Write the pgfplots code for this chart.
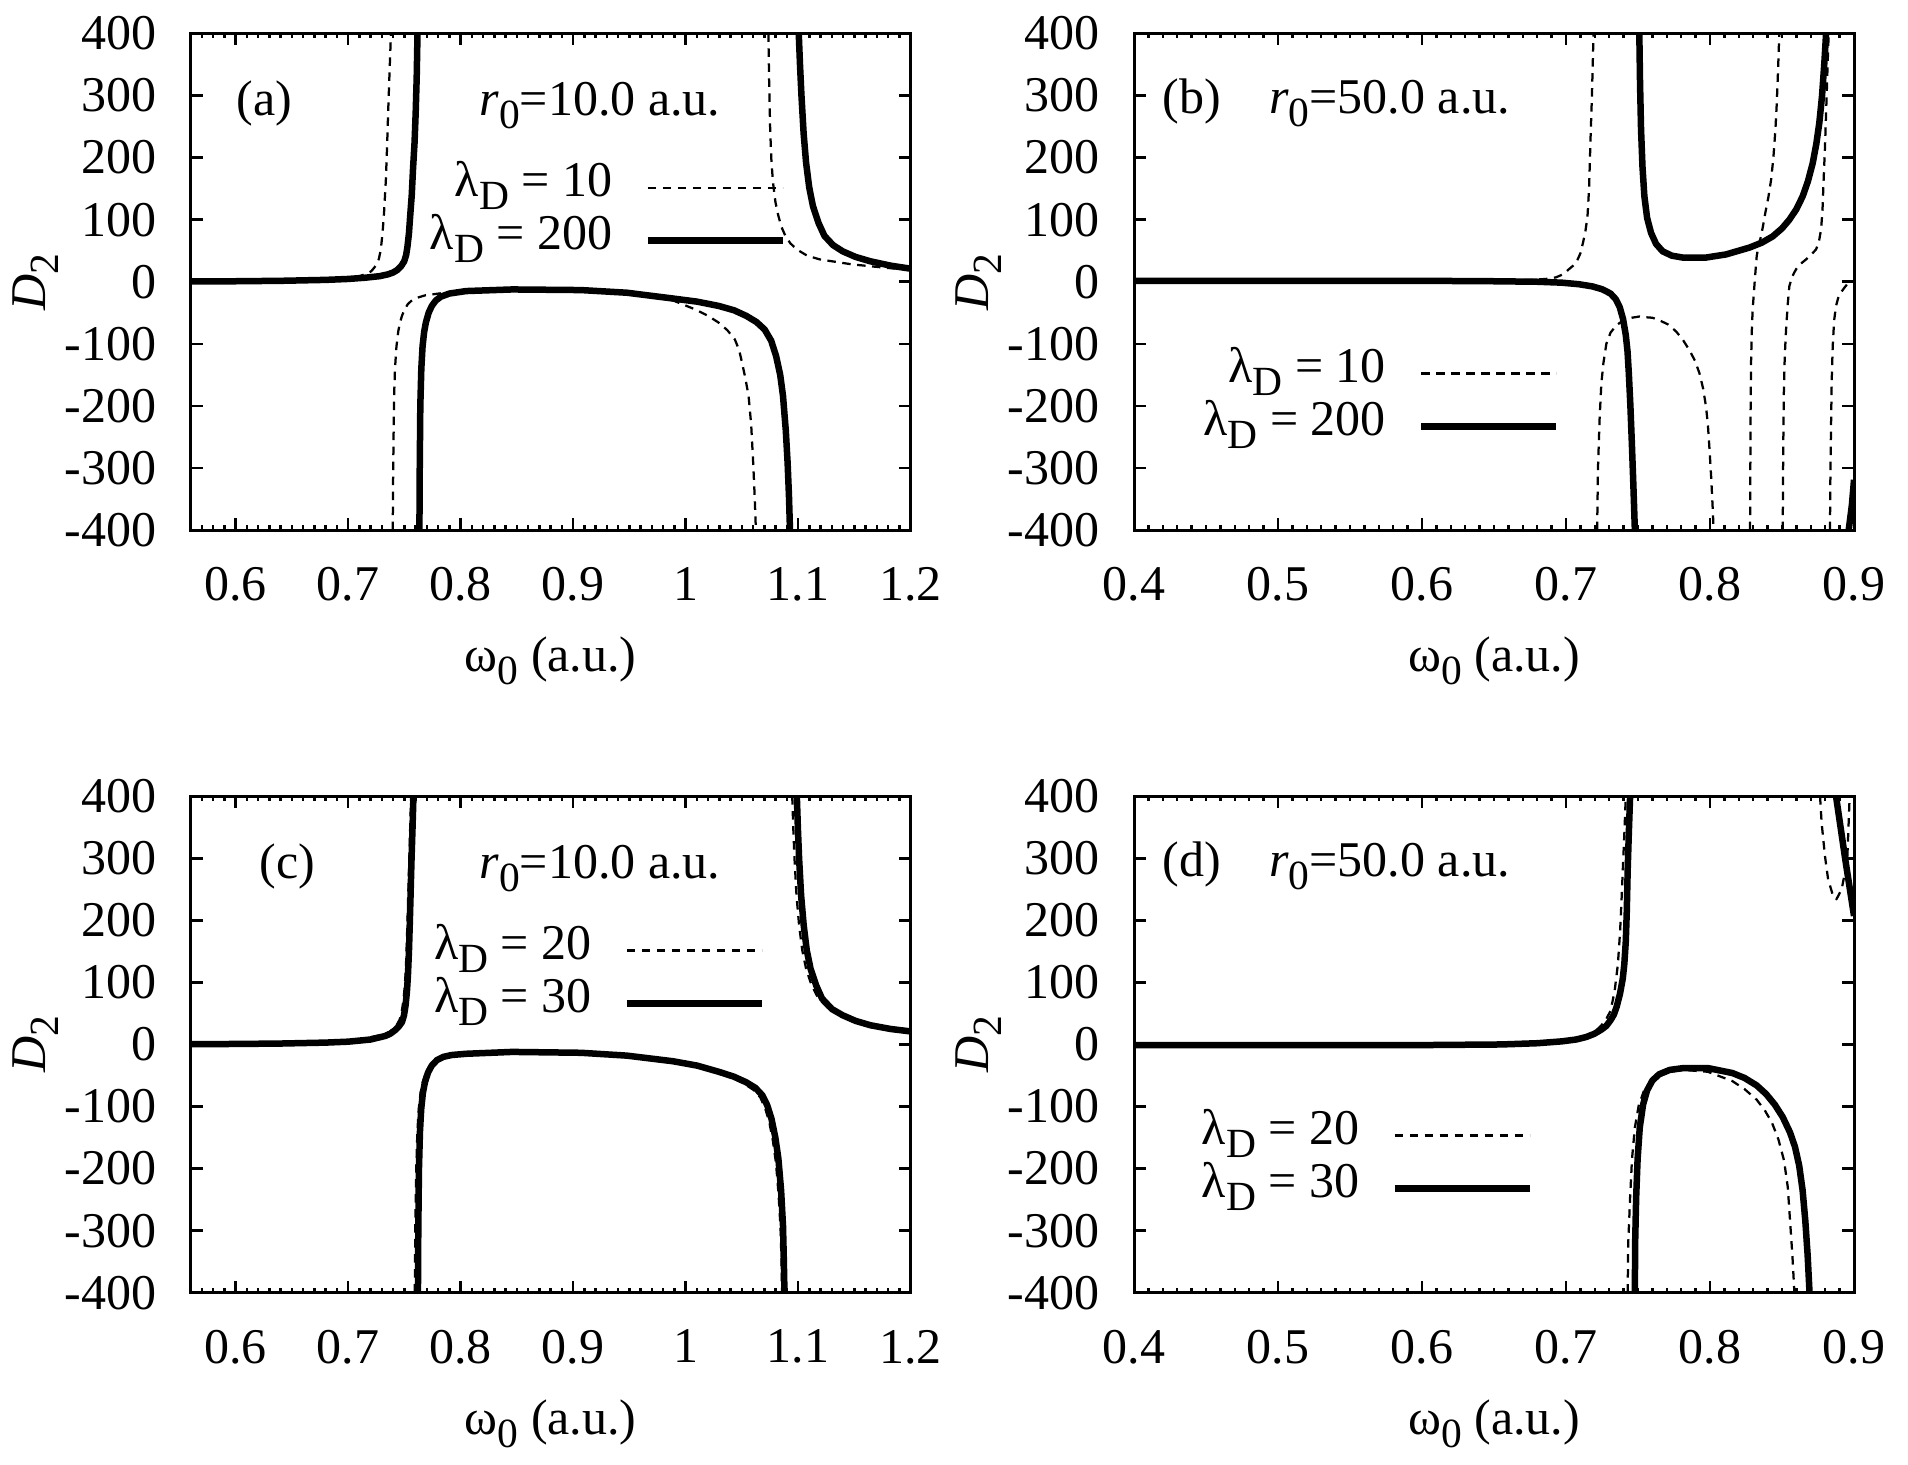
\documentclass[border=0pt]{standalone}
\usepackage{fontspec}
\setmainfont{Liberation Serif}
\usepackage{pgfplots}
\pgfplotsset{compat=1.18}
\usetikzlibrary{calc}
\newcommand\sub[1]{\raisebox{-2.6pt}{\fontsize{8.3}{8}\selectfont #1}}
\pgfplotsset{
 panel/.style={
  scale only axis, width=144pt, height=99.3pt,
  ymin=-400, ymax=400, ytick={-400,-300,-200,-100,0,100,200,300,400},
  yticklabels={-400,-300,-200,-100,0,100,200,300,400},
  tick align=inside, major tick length=2.4pt, minor tick length=1pt,
  every tick/.style={line width=0.5pt, black},
  axis line style={line width=0.6pt},
  xticklabel style={yshift=-3.9pt},
  yticklabel style={xshift=-3.4pt},
  xlabel={ω\sub{0} (a.u.)},
  ylabel={\textit{D}\sub{2}},
  every axis x label/.style={at={(rel axis cs:0.5,0)}, anchor=base, yshift=-28.3pt},
  every axis y label/.style={at={($(rel axis cs:0,0.5)+(-31pt,0pt)$)}, anchor=center, rotate=90},
  legend plot pos=right, legend cell align=right,
  legend image code/.code={\draw[##1] (0pt,0pt) -- (27pt,0pt);},
  legend style={draw=none, fill=none, inner sep=0pt, outer sep=0pt,
    column sep=6.4pt, row sep=0pt,
    nodes={inner sep=0pt, text height=7pt, text depth=3.6pt}},
 },
 pa/.style={panel, xmin=0.56, xmax=1.2, xtick={0.6,0.7,0.8,0.9,1.0,1.1,1.2},
  xticklabels={0.6,0.7,0.8,0.9,1,1.1,1.2}, minor xtick={0.56,0.57,...,1.205}},
 pb/.style={panel, xmin=0.4, xmax=0.9, xtick={0.4,0.5,0.6,0.7,0.8,0.9},
  xticklabels={0.4,0.5,0.6,0.7,0.8,0.9}, minor xtick={0.4,0.41,...,0.905}},
 dsh/.style={black, line width=0.45pt, dash pattern=on 1.7pt off 1.3pt, line join=round},
 sld/.style={black, line width=1.3pt, line join=round},
}
\begin{document}
\begin{tikzpicture}
\useasboundingbox (0,0) rectangle (381.6pt,292.8pt);
% ---------------- (a)
\begin{axis}[pa, at={(38.14pt,186.8pt)}, anchor=south west,
  legend style={at={(axis cs:1.089,194.3)}, anchor=north east}]
\addplot[dsh] coordinates {(0.56,0.5) (0.60,0.8) (0.64,1.5) (0.67,2.5) (0.69,4) (0.702,6.5) (0.71,9) (0.7168,13) (0.7205,17) (0.7233,23) (0.7255,29) (0.7273,37) (0.7290,52) (0.7306,80) (0.7320,115) (0.7335,165) (0.7346,220) (0.7355,273) (0.7368,340) (0.738,400)};
\addlegendentry{λ\sub{D} = 10}
\addplot[dsh, forget plot] coordinates {(0.7396,-400) (0.7400,-300) (0.7404,-240) (0.7408,-184) (0.7416,-140) (0.7429,-104) (0.7445,-80) (0.7460,-66) (0.7478,-55) (0.750,-45) (0.753,-36) (0.756,-31) (0.761,-26) (0.7682,-22) (0.7886,-17) (0.82,-14) (0.86,-12.5) (0.907,-13.4) (0.94,-16) (0.9682,-21) (0.9886,-30) (1.009,-45) (1.020,-55) (1.0294,-66) (1.0370,-78) (1.0437,-93) (1.0475,-110) (1.0498,-128) (1.0530,-155) (1.0559,-184) (1.0582,-230) (1.06,-292) (1.0613,-345) (1.0624,-400)};
\addplot[dsh, forget plot] coordinates {(1.0735,400) (1.0742,320) (1.0751,245) (1.0762,195) (1.0776,160) (1.0798,128) (1.0824,106) (1.0852,88) (1.0886,74) (1.093,62) (1.0988,52) (1.108,42) (1.1192,36) (1.1478,28) (1.175,23) (1.2,19)};
\addplot[sld] coordinates {(0.56,0.5) (0.60,0.8) (0.64,1.5) (0.68,3) (0.70,4.5) (0.7151,6.5) (0.728,9) (0.7355,12) (0.740,15) (0.7437,19) (0.7470,25) (0.7498,33) (0.7515,43) (0.7527,57) (0.7540,78) (0.7551,106) (0.7565,140) (0.7576,181) (0.7590,225) (0.7600,273) (0.7609,330) (0.7616,400)};
\addlegendentry{λ\sub{D} = 200}
\addplot[sld, forget plot] coordinates {(0.7633,-400) (0.7636,-300) (0.7641,-200) (0.7650,-140) (0.7661,-104) (0.7675,-81) (0.769,-66) (0.7715,-50) (0.7743,-39) (0.778,-30) (0.7824,-24) (0.790,-19) (0.8049,-15) (0.8457,-12.4) (0.9069,-13.4) (0.9478,-17.7) (0.9886,-27) (1.0100,-32) (1.0294,-39) (1.0430,-46) (1.0539,-55) (1.0630,-65) (1.0702,-77) (1.0760,-95) (1.0804,-120) (1.0840,-150) (1.0865,-184) (1.0890,-240) (1.0906,-292) (1.0918,-345) (1.0927,-400)};
\addplot[sld, forget plot] coordinates {(1.1005,400) (1.1016,350) (1.1029,300) (1.1048,240) (1.107,192) (1.1098,152) (1.1131,122) (1.118,95) (1.1233,74) (1.131,59) (1.1396,49) (1.1510,40) (1.1641,33) (1.182,26) (1.2,21)};
\node[anchor=base] at (axis cs:0.6253,268) {(a)};
\node[anchor=base west] at (axis cs:0.801,268) {\textit{r}\sub{0}=10.0 a.u.};
\end{axis}
% ---------------- (b)
\begin{axis}[pb, at={(226.8pt,186.8pt)}, anchor=south west,
  legend style={at={(axis cs:0.6954,-105.2)}, anchor=north east}]
\addplot[dsh] coordinates {(0.4,1.5) (0.5,1.5) (0.6,1.5) (0.65,2) (0.676,3) (0.686,4.5) (0.6929,7) (0.698,12) (0.7014,19) (0.705,26) (0.7077,34) (0.710,46) (0.7119,64) (0.7135,82) (0.7149,105) (0.7160,150) (0.717,229) (0.718,300) (0.7191,400)};
\addlegendentry{λ\sub{D} = 10}
\addplot[dsh, forget plot] coordinates {(0.7216,-400) (0.7222,-300) (0.7233,-222) (0.7245,-165) (0.7259,-132) (0.728,-100) (0.7309,-82) (0.735,-70) (0.7394,-63) (0.7457,-58) (0.7509,-56) (0.7542,-57) (0.76,-58) (0.7648,-62) (0.771,-69) (0.7764,-80) (0.781,-93) (0.7856,-110) (0.7895,-127) (0.7926,-147) (0.7952,-172) (0.7972,-201) (0.7985,-230) (0.7995,-265) (0.8008,-315) (0.8019,-367) (0.8025,-400)};
\addplot[dsh, forget plot] coordinates {(0.8278,-400) (0.828,-300) (0.8282,-200) (0.8285,-130) (0.829,-80) (0.8296,-45) (0.8303,-23) (0.8312,6) (0.8324,41) (0.8338,60) (0.8354,73) (0.8368,90) (0.8384,111) (0.8405,136) (0.8424,164) (0.844,200) (0.8454,245) (0.8463,285) (0.847,326) (0.8476,365) (0.8481,400)};
\addplot[dsh, forget plot] coordinates {(0.8505,-400) (0.8508,-280) (0.8512,-185) (0.8519,-120) (0.8528,-77) (0.854,-35) (0.8551,-7) (0.8570,8) (0.8597,20) (0.863,29) (0.8667,36) (0.870,43) (0.8736,52) (0.8755,63) (0.8771,84) (0.8781,115) (0.8789,165) (0.8798,215) (0.8806,272) (0.8812,315) (0.8817,353) (0.8824,400)};
\addplot[dsh, forget plot] coordinates {(0.8833,-400) (0.8836,-310) (0.884,-239) (0.8845,-160) (0.8852,-104) (0.8862,-62) (0.8875,-39) (0.889,-26) (0.891,-17) (0.8935,-9) (0.8956,-3) (0.898,0) (0.9,1)};
\addplot[sld] coordinates {(0.4,1.5) (0.5,1.5) (0.6,1.5) (0.65,0.8) (0.68,0) (0.6971,-1.5) (0.709,-4) (0.7183,-7.5) (0.725,-12) (0.7309,-19) (0.7345,-28) (0.7373,-41) (0.7396,-60) (0.7415,-86) (0.7427,-112) (0.7436,-147) (0.7447,-200) (0.7457,-259) (0.7468,-330) (0.7478,-400)};
\addlegendentry{λ\sub{D} = 200}
\addplot[sld, forget plot] coordinates {(0.7509,400) (0.7514,320) (0.7521,245) (0.7531,185) (0.7544,138) (0.7563,103) (0.759,79) (0.7625,61) (0.7671,49) (0.7735,42) (0.781,39) (0.7972,39) (0.8111,44) (0.8273,55) (0.8360,63) (0.8435,73) (0.850,86) (0.8551,100) (0.860,117) (0.8644,138) (0.868,162) (0.8713,191) (0.8738,222) (0.8759,256) (0.8778,300) (0.8794,353) (0.8806,400)};
\addplot[sld, forget plot] coordinates {(0.8963,-400) (0.8985,-360) (0.9,-319)};
\node[anchor=base] at (axis cs:0.4403,271) {(b)};
\node[anchor=base west] at (axis cs:0.4817,271) {\textit{r}\sub{0}=50.0 a.u.};
\end{axis}
% ---------------- (c)
\begin{axis}[pa, at={(38.14pt,34.26pt)}, anchor=south west,
  legend style={at={(axis cs:1.0706,194.1)}, anchor=north east}]
\addplot[dsh] coordinates {(0.56,0.5) (0.60,0.8) (0.64,1.5) (0.68,3) (0.70,5) (0.7151,10) (0.7314,16) (0.7365,20) (0.74,25) (0.7430,31) (0.7457,40) (0.7476,53) (0.749,70) (0.7502,92) (0.7512,120) (0.7520,160) (0.7527,200) (0.7535,250) (0.7543,300) (0.7551,350) (0.7559,400)};
\addlegendentry{λ\sub{D} = 20}
\addplot[dsh, forget plot] coordinates {(0.7592,-400) (0.7596,-300) (0.7605,-200) (0.7615,-140) (0.7627,-104) (0.7643,-78) (0.7662,-61) (0.769,-45) (0.7725,-34) (0.777,-25) (0.783,-20) (0.792,-17) (0.8049,-15) (0.8457,-12) (0.9069,-13.4) (0.9478,-18) (0.9886,-28) (1.010,-36) (1.0294,-46) (1.042,-54) (1.0519,-63) (1.060,-73) (1.0662,-85) (1.0705,-102) (1.0743,-125) (1.0775,-155) (1.0802,-190) (1.0825,-240) (1.0843,-295) (1.0851,-345) (1.0857,-400)};
\addplot[dsh, forget plot] coordinates {(1.0947,400) (1.0956,350) (1.0967,300) (1.0985,240) (1.1008,192) (1.1036,152) (1.107,122) (1.112,95) (1.118,74) (1.127,58) (1.137,47) (1.150,37) (1.1641,30) (1.182,24) (1.2,20)};
\addplot[sld] coordinates {(0.56,0.5) (0.60,0.8) (0.64,1.5) (0.68,3) (0.70,4.5) (0.72,8) (0.7335,14) (0.738,18) (0.7416,23) (0.7450,29) (0.7478,36) (0.7496,47) (0.751,63) (0.7522,85) (0.7531,111) (0.7540,150) (0.7547,192) (0.7555,245) (0.7563,299) (0.7572,350) (0.758,400)};
\addlegendentry{λ\sub{D} = 30}
\addplot[sld, forget plot] coordinates {(0.762,-400) (0.7623,-300) (0.7629,-200) (0.7638,-140) (0.7649,-104) (0.7664,-78) (0.7682,-61) (0.771,-45) (0.7743,-34) (0.779,-25) (0.7845,-20) (0.792,-17) (0.8049,-15) (0.8457,-12) (0.9069,-13.4) (0.9478,-18) (0.9886,-27) (1.010,-34) (1.0294,-44) (1.043,-52) (1.0539,-61) (1.062,-70) (1.0682,-82) (1.0725,-98) (1.0763,-120) (1.0797,-150) (1.0824,-184) (1.0848,-235) (1.0865,-292) (1.0872,-345) (1.0878,-400)};
\addplot[sld, forget plot] coordinates {(1.0988,400) (1.0997,350) (1.1008,300) (1.1026,240) (1.1049,192) (1.1076,152) (1.111,122) (1.116,95) (1.1212,74) (1.130,57) (1.1396,47) (1.151,38) (1.1641,31) (1.182,25) (1.2,21)};
\node[anchor=base] at (axis cs:0.6458,268) {(c)};
\node[anchor=base west] at (axis cs:0.801,268) {\textit{r}\sub{0}=10.0 a.u.};
\end{axis}
% ---------------- (d)
\begin{axis}[pb, at={(226.8pt,34.26pt)}, anchor=south west,
  legend style={at={(axis cs:0.677,-104.1)}, anchor=north east}]
\addplot[dsh] coordinates {(0.4,-1) (0.5,-1) (0.6,-1) (0.6549,0.5) (0.68,3) (0.6971,6) (0.707,9.5) (0.714,14) (0.719,19) (0.7225,26) (0.727,37) (0.7309,54) (0.7337,85) (0.736,129) (0.7375,180) (0.7385,230) (0.7394,280) (0.7405,340) (0.7415,400)};
\addlegendentry{λ\sub{D} = 20}
\addplot[dsh, forget plot] coordinates {(0.7428,-400) (0.7432,-320) (0.7445,-247) (0.7458,-185) (0.7478,-134) (0.7505,-98) (0.7542,-74) (0.759,-59) (0.7647,-51) (0.772,-44) (0.7816,-41) (0.7985,-44) (0.8155,-59) (0.8240,-72) (0.8324,-89) (0.838,-106) (0.843,-126) (0.8475,-153) (0.8514,-187) (0.8540,-230) (0.8556,-285) (0.8572,-340) (0.8586,-400)};
\addplot[dsh, forget plot] coordinates {(0.8764,400) (0.8775,357) (0.8798,304) (0.882,266) (0.8855,239) (0.8878,234) (0.8914,250) (0.8937,277) (0.8954,304) (0.8961,347) (0.8968,390) (0.897,400)};
\addplot[sld] coordinates {(0.4,-1) (0.5,-1) (0.6,-1) (0.6549,0) (0.68,2) (0.6971,5) (0.707,8) (0.714,12) (0.7195,17) (0.7246,24) (0.728,30) (0.7309,39) (0.7332,48) (0.7352,61) (0.7375,82) (0.7394,106) (0.7405,130) (0.7415,166) (0.7422,215) (0.7428,280) (0.7436,340) (0.7445,400)};
\addlegendentry{λ\sub{D} = 30}
\addplot[sld, forget plot] coordinates {(0.7478,-400) (0.748,-320) (0.7487,-247) (0.7497,-185) (0.7512,-134) (0.7535,-97) (0.7563,-74) (0.76,-58) (0.7647,-48) (0.772,-41) (0.7816,-38) (0.7985,-38) (0.8155,-46) (0.8240,-54) (0.8324,-66) (0.839,-80) (0.845,-97) (0.8505,-117) (0.8556,-142) (0.8590,-165) (0.8619,-195) (0.8643,-235) (0.8662,-285) (0.8678,-340) (0.8691,-400)};
\addplot[sld, forget plot] coordinates {(0.8875,400) (0.8938,300) (0.9,207)};
\node[anchor=base] at (axis cs:0.4402,271) {(d)};
\node[anchor=base west] at (axis cs:0.4817,271) {\textit{r}\sub{0}=50.0 a.u.};
\end{axis}
\end{tikzpicture}
\end{document}
